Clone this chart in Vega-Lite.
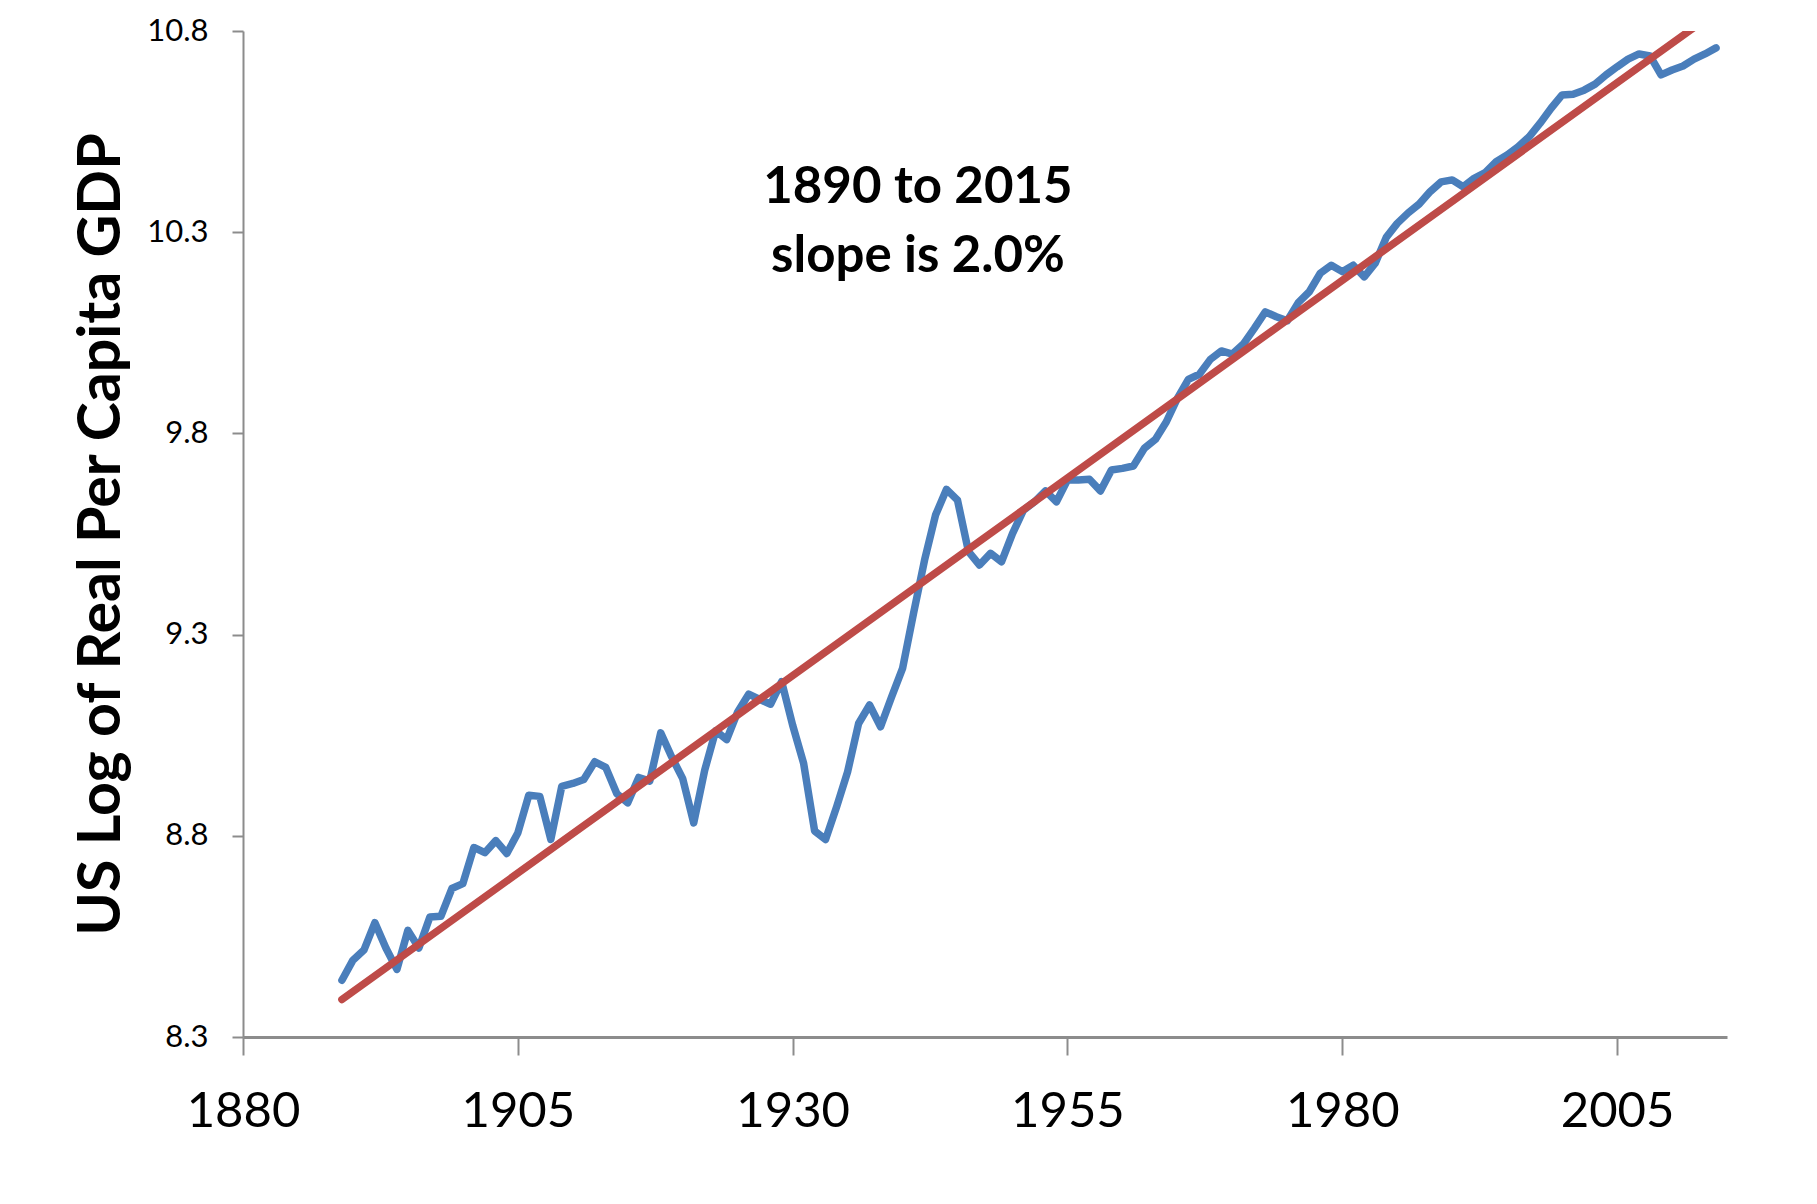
{
  "$schema": "https://vega.github.io/schema/vega-lite/v6.json",
  "width": 1484,
  "height": 1006,
  "autosize": {"type": "none"},
  "padding": {"left": 243, "top": 31, "right": 90, "bottom": 167},
  "background": "white",
  "config": {
    "view": {"stroke": null},
    "font": "Lato",
    "axis": {"grid": false, "labelFont": "Lato", "titleFont": "Lato", "labelColor": "black", "titleColor": "black", "domainColor": "#8c8c8c", "tickColor": "#8c8c8c"}
  },
  "datasets": {
    "gdp": [
      {"year": 1889, "value": 8.441}, {"year": 1890, "value": 8.491}, {"year": 1891, "value": 8.516}, {"year": 1892, "value": 8.584},
      {"year": 1893, "value": 8.521}, {"year": 1894, "value": 8.468}, {"year": 1895, "value": 8.565}, {"year": 1896, "value": 8.521},
      {"year": 1897, "value": 8.598}, {"year": 1898, "value": 8.600}, {"year": 1899, "value": 8.669}, {"year": 1900, "value": 8.681},
      {"year": 1901, "value": 8.771}, {"year": 1902, "value": 8.758}, {"year": 1903, "value": 8.788}, {"year": 1904, "value": 8.756},
      {"year": 1905, "value": 8.807}, {"year": 1906, "value": 8.901}, {"year": 1907, "value": 8.898}, {"year": 1908, "value": 8.791},
      {"year": 1909, "value": 8.923}, {"year": 1910, "value": 8.930}, {"year": 1911, "value": 8.940}, {"year": 1912, "value": 8.984},
      {"year": 1913, "value": 8.970}, {"year": 1914, "value": 8.905}, {"year": 1915, "value": 8.882}, {"year": 1916, "value": 8.945},
      {"year": 1917, "value": 8.936}, {"year": 1918, "value": 9.056}, {"year": 1919, "value": 8.996}, {"year": 1920, "value": 8.942},
      {"year": 1921, "value": 8.832}, {"year": 1922, "value": 8.963}, {"year": 1923, "value": 9.061}, {"year": 1924, "value": 9.039},
      {"year": 1925, "value": 9.108}, {"year": 1926, "value": 9.152}, {"year": 1927, "value": 9.139}, {"year": 1928, "value": 9.127},
      {"year": 1929, "value": 9.183}, {"year": 1930, "value": 9.075}, {"year": 1931, "value": 8.980}, {"year": 1932, "value": 8.812},
      {"year": 1933, "value": 8.791}, {"year": 1934, "value": 8.872}, {"year": 1935, "value": 8.959}, {"year": 1936, "value": 9.079},
      {"year": 1937, "value": 9.125}, {"year": 1938, "value": 9.071}, {"year": 1939, "value": 9.145}, {"year": 1940, "value": 9.216},
      {"year": 1941, "value": 9.353}, {"year": 1942, "value": 9.485}, {"year": 1943, "value": 9.597}, {"year": 1944, "value": 9.661},
      {"year": 1945, "value": 9.634}, {"year": 1946, "value": 9.506}, {"year": 1947, "value": 9.473}, {"year": 1948, "value": 9.502},
      {"year": 1949, "value": 9.481}, {"year": 1950, "value": 9.551}, {"year": 1951, "value": 9.609}, {"year": 1952, "value": 9.630},
      {"year": 1953, "value": 9.657}, {"year": 1954, "value": 9.630}, {"year": 1955, "value": 9.684}, {"year": 1956, "value": 9.684},
      {"year": 1957, "value": 9.686}, {"year": 1958, "value": 9.657}, {"year": 1959, "value": 9.709}, {"year": 1960, "value": 9.713},
      {"year": 1961, "value": 9.719}, {"year": 1962, "value": 9.763}, {"year": 1963, "value": 9.785}, {"year": 1964, "value": 9.829},
      {"year": 1965, "value": 9.887}, {"year": 1966, "value": 9.934}, {"year": 1967, "value": 9.947}, {"year": 1968, "value": 9.984},
      {"year": 1969, "value": 10.005}, {"year": 1970, "value": 9.997}, {"year": 1971, "value": 10.022}, {"year": 1972, "value": 10.061},
      {"year": 1973, "value": 10.102}, {"year": 1974, "value": 10.090}, {"year": 1975, "value": 10.080}, {"year": 1976, "value": 10.125},
      {"year": 1977, "value": 10.152}, {"year": 1978, "value": 10.198}, {"year": 1979, "value": 10.218}, {"year": 1980, "value": 10.202},
      {"year": 1981, "value": 10.218}, {"year": 1982, "value": 10.189}, {"year": 1983, "value": 10.223}, {"year": 1984, "value": 10.287},
      {"year": 1985, "value": 10.322}, {"year": 1986, "value": 10.348}, {"year": 1987, "value": 10.370}, {"year": 1988, "value": 10.401},
      {"year": 1989, "value": 10.425}, {"year": 1990, "value": 10.430}, {"year": 1991, "value": 10.413}, {"year": 1992, "value": 10.434},
      {"year": 1993, "value": 10.448}, {"year": 1994, "value": 10.475}, {"year": 1995, "value": 10.492}, {"year": 1996, "value": 10.512},
      {"year": 1997, "value": 10.537}, {"year": 1998, "value": 10.571}, {"year": 1999, "value": 10.608}, {"year": 2000, "value": 10.641},
      {"year": 2001, "value": 10.643}, {"year": 2002, "value": 10.653}, {"year": 2003, "value": 10.668}, {"year": 2004, "value": 10.691},
      {"year": 2005, "value": 10.711}, {"year": 2006, "value": 10.730}, {"year": 2007, "value": 10.743}, {"year": 2008, "value": 10.738},
      {"year": 2009, "value": 10.691}, {"year": 2010, "value": 10.703}, {"year": 2011, "value": 10.713}, {"year": 2012, "value": 10.730},
      {"year": 2013, "value": 10.743}, {"year": 2014, "value": 10.758}
    ],
    "trend": [
      {"year": 1889, "value": 8.393},
      {"year": 2014, "value": 10.848}
    ],
    "note": [
      {"year": 1941.4, "value": 10.41, "label": "1890 to 2015"},
      {"year": 1941.4, "value": 10.238, "label": "slope is 2.0%"}
    ]
  },
  "encoding": {
    "x": {
      "field": "year", "type": "quantitative",
      "scale": {"domain": [1880, 2015], "nice": false, "zero": false},
      "axis": {
        "title": null, "values": [1880, 1905, 1930, 1955, 1980, 2005], "format": "d",
        "labelFontSize": 49, "labelPadding": 32, "tickSize": 18, "tickWidth": 2, "domainWidth": 3,
        "labelFlush": false, "labelOverlap": false
      }
    },
    "y": {
      "field": "value", "type": "quantitative",
      "scale": {"domain": [8.3, 10.8], "nice": false, "zero": false},
      "axis": {
        "title": "US Log of Real Per Capita GDP",
        "values": [8.3, 8.8, 9.3, 9.8, 10.3, 10.8], "format": ".1f",
        "labelFontSize": 31, "labelPadding": 24, "tickSize": 11, "tickWidth": 2, "domainWidth": 2,
        "labelFlush": false, "labelOverlap": false,
        "titleFontSize": 59, "titleFontWeight": "bold", "titleAngle": -90,
        "titleX": -142, "titleY": 503, "titleAlign": "center", "titleBaseline": "middle"
      }
    }
  },
  "layer": [
    {
      "data": {"name": "gdp"},
      "mark": {"type": "line", "color": "#4A7EBB", "strokeWidth": 7.5, "strokeJoin": "round", "strokeCap": "round", "clip": true}
    },
    {
      "data": {"name": "trend"},
      "mark": {"type": "line", "color": "#BE4B48", "strokeWidth": 7.5, "strokeCap": "round", "clip": true}
    },
    {
      "data": {"name": "note"},
      "mark": {"type": "text", "font": "Lato", "fontWeight": "bold", "fontSize": 51, "align": "center", "baseline": "middle", "color": "black"},
      "encoding": {"text": {"field": "label", "type": "nominal"}}
    }
  ]
}
